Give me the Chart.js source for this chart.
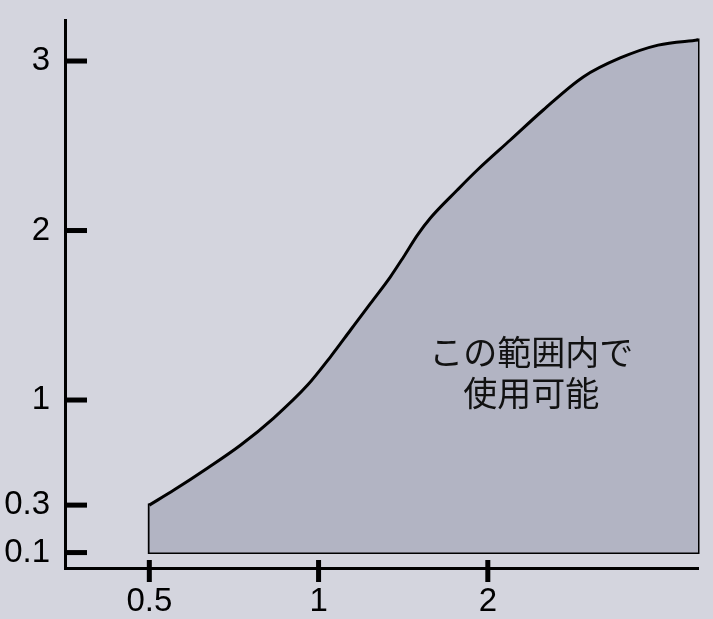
<!DOCTYPE html>
<html>
<head>
<meta charset="utf-8">
<script src="https://cdn.jsdelivr.net/npm/chart.js@4/dist/chart.umd.min.js"></script>
<style>
  html, body { margin: 0; padding: 0; background: #d4d5de; }
  #wrap { width: 713px; height: 619px; position: relative; }
</style>
</head>
<body>
<div id="wrap"><canvas id="c"></canvas></div>
<script>
// ---- data ----
const xTickValues = [0.5, 1, 2];
const xTickLabels = ['0.5', '1', '2'];
const yTickValues = [0.1, 0.3, 1, 2, 3];
const yTickLabels = ['0.1', '0.3', '1', '2', '3'];
// upper boundary curve of the usable region (x: log scale, y: value)
const curveX = [0.5, 0.553, 0.635, 0.727, 0.832, 0.956, 1.050, 1.140, 1.237, 1.342, 1.416, 1.499, 1.581, 1.765, 1.916, 2.193, 2.510, 2.956, 3.439, 4.017, 4.73];
const curveY = [0.3, 0.40, 0.547, 0.70, 0.88, 1.088, 1.255, 1.413, 1.570, 1.727, 1.844, 1.973, 2.074, 2.239, 2.357, 2.534, 2.711, 2.906, 3.018, 3.094, 3.124];
// left edge, floor and right edge of the region
const edgeX = [0.5, 0.5, 4.73, 4.73];
const edgeY = [0.3, 0.1, 0.1, 3.124];
const floorValue = 0.1;
const regionLabel = ['この範囲内で', '使用可能'];
const regionLabelAt = { x: 2.39, y: 1.16 };

// ---- piecewise y scale (schematic axis: 0.1 / 0.3 / 1 / 2 / 3) ----
function warp(v) {
  if (v <= 0.1 || v >= 1) return v;
  if (v <= 0.3) return 0.1 + (v - 0.1) * (0.28 / 0.2);
  return 0.38 + (v - 0.3) * (0.62 / 0.7);
}
function unwarp(p) {
  if (p <= 0.1 || p >= 1) return p;
  if (p <= 0.38) return 0.1 + (p - 0.1) * (0.2 / 0.28);
  return 0.3 + (p - 0.38) * (0.7 / 0.62);
}
class WarpScale extends Chart.LinearScale {
  getPixelForValue(value) {
    if (value === null || value === undefined) return NaN;
    const a = warp(this.min), b = warp(this.max);
    return this.getPixelForDecimal((warp(value) - a) / (b - a));
  }
  getValueForPixel(pixel) {
    const a = warp(this.min), b = warp(this.max);
    return unwarp(a + this.getDecimalForPixel(pixel) * (b - a));
  }
}
WarpScale.id = 'warp';
WarpScale.defaults = Chart.LinearScale.defaults;
Chart.register(WarpScale);

const BG = '#d4d5de';
const FILL = '#b2b4c3';
const INK = '#000000';

const decorPlugin = {
  id: 'decor',
  beforeDraw(chart) {
    const ctx = chart.ctx;
    ctx.save();
    ctx.fillStyle = BG;
    ctx.fillRect(0, 0, chart.width, chart.height);
    ctx.restore();
  },
  afterDraw(chart) {
    const ctx = chart.ctx;
    const xs = chart.scales.x, ys = chart.scales.y;
    const area = chart.chartArea;
    ctx.save();
    ctx.fillStyle = INK;
    yTickValues.forEach(v => {
      const py = ys.getPixelForValue(v);
      ctx.fillRect(area.left, py - 2.5, 22, 5);
    });
    xTickValues.forEach(v => {
      const px = xs.getPixelForValue(v);
      ctx.fillRect(px - 2.5, area.bottom - 8, 5, 22);
    });
    const cx = xs.getPixelForValue(regionLabelAt.x);
    const cy = ys.getPixelForValue(regionLabelAt.y);
    ctx.fillStyle = '#111111';
    ctx.font = '34px "Noto Sans CJK JP", sans-serif';
    ctx.textAlign = 'center';
    ctx.textBaseline = 'middle';
    const lh = 41;
    regionLabel.forEach((t, i) => {
      ctx.fillText(t, cx, cy + (i - (regionLabel.length - 1) / 2) * lh);
    });
    ctx.restore();
  }
};

const tickFont = { family: '"Liberation Sans", Helvetica, Arial, sans-serif', size: 33 };

new Chart(document.getElementById('c'), {
  type: 'line',
  data: {
    datasets: [
      {
        data: curveX.map((x, i) => ({ x: x, y: curveY[i] })),
        borderColor: INK,
        borderWidth: 3,
        backgroundColor: FILL,
        fill: { value: floorValue },
        cubicInterpolationMode: 'monotone',
        pointRadius: 0,
        borderJoinStyle: 'miter',
        clip: false
      },
      {
        data: edgeX.map((x, i) => ({ x: x, y: edgeY[i] })),
        borderColor: INK,
        borderWidth: 3,
        fill: false,
        tension: 0,
        pointRadius: 0,
        borderJoinStyle: 'miter',
        borderCapStyle: 'square',
        clip: false
      }
    ]
  },
  options: {
    responsive: true,
    maintainAspectRatio: false,
    animation: false,
    events: [],
    layout: { padding: { top: 20, right: 15, left: 0, bottom: 0 } },
    plugins: { legend: { display: false }, tooltip: { enabled: false }, title: { display: false } },
    scales: {
      x: {
        type: 'logarithmic',
        min: 0.354,
        max: 4.73,
        bounds: 'data',
        afterBuildTicks: s => { s.ticks = xTickValues.map(v => ({ value: v })); },
        afterFit: s => { s.height = 51; s.paddingLeft = 0; s.paddingRight = 0; },
        grid: { display: true, drawOnChartArea: false, drawTicks: false },
        border: { display: true, color: INK, width: 3 },
        ticks: {
          autoSkip: false, maxRotation: 0, minRotation: 0,
          padding: 14,
          color: INK,
          font: tickFont,
          callback: (v, i) => xTickLabels[i]
        }
      },
      y: {
        type: 'warp',
        min: 0.009,
        max: 3.242,
        afterBuildTicks: s => { s.ticks = yTickValues.map(v => ({ value: v })); },
        afterFit: s => { s.width = 65; s.paddingTop = 0; s.paddingBottom = 0; },
        grid: { display: true, drawOnChartArea: false, drawTicks: false },
        border: { display: true, color: INK, width: 3 },
        ticks: {
          autoSkip: false,
          padding: 15,
          color: INK,
          font: tickFont,
          callback: (v, i) => yTickLabels[i]
        }
      }
    }
  },
  plugins: [decorPlugin]
});
</script>
</body>
</html>
